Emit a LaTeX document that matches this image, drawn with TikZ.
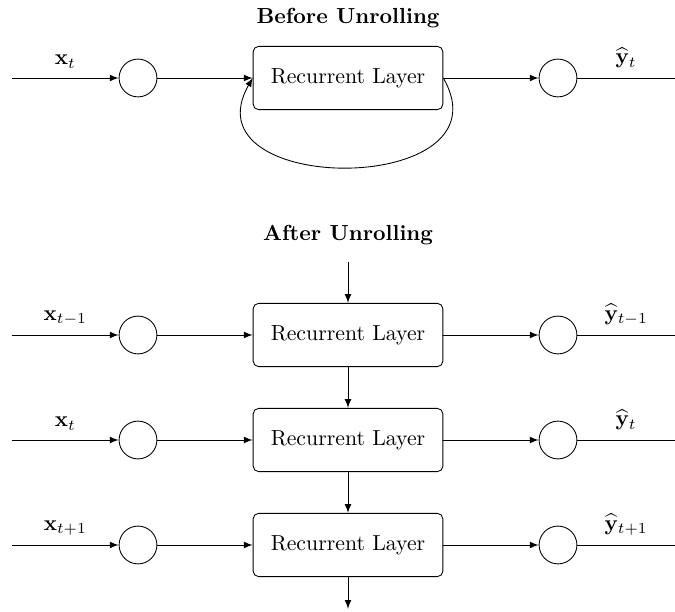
\documentclass[tikz,border=0pt]{standalone}
\usetikzlibrary{arrows}

\begin{document}
\begin{tikzpicture}[>=latex,
		layer/.style={draw, rounded corners=2.5pt, minimum width=3.06cm, minimum height=1.02cm},
		unit/.style={draw, circle, minimum size=0.61cm, inner sep=0pt}]
		\useasboundingbox (0,0) rectangle (10.887,-9.855);

		\node[font=\bfseries] (before) at (5.613,-0.29) {Before Unrolling};
		\coordinate (xin) at (0.194,-1.258);
		\node[unit] (in) at (2.226,-1.258) {};
		\node[layer] (rl) at (5.613,-1.258) {Recurrent Layer};
		\node[unit] (out) at (9.0,-1.258) {};
		\coordinate (yout) at (10.887,-1.258);
		\draw[->] (xin) -- node[above=1pt] {$\mathbf{x}_t$} (in);
		\draw[->] (in) -- (rl);
		\draw[->] (rl) -- (out);
		\draw (out) -- node[above=1pt] {$\widehat{\mathbf{y}}_t$} (yout);
		\draw[->] (rl.east) to[out=-60, in=-120, looseness=1.85] (rl.west);

		\node[font=\bfseries] (after) at (5.613,-3.79) {After Unrolling};
		\coordinate (top) at (5.613,-4.226);
		\coordinate (bottom) at (5.613,-9.82);

		\foreach \i/\y/\sub in {1/-5.403/t-1, 2/-7.097/t, 3/-8.79/t+1}
		{
			\coordinate (xin\i) at (0.194,\y);
			\node[unit] (in\i) at (2.226,\y) {};
			\node[layer] (rl\i) at (5.613,\y) {Recurrent Layer};
			\node[unit] (out\i) at (9.0,\y) {};
			\coordinate (yout\i) at (10.887,\y);
			\draw[->] (xin\i) -- node[above=1pt] {$\mathbf{x}_{\sub}$} (in\i);
			\draw[->] (in\i) -- (rl\i);
			\draw[->] (rl\i) -- (out\i);
			\draw (out\i) -- node[above=1pt] {$\widehat{\mathbf{y}}_{\sub}$} (yout\i);
		}

		\draw[->] (top) -- (rl1);
		\draw[->] (rl1) -- (rl2);
		\draw[->] (rl2) -- (rl3);
		\draw[->] (rl3) -- (bottom);
	\end{tikzpicture}
\end{document}
